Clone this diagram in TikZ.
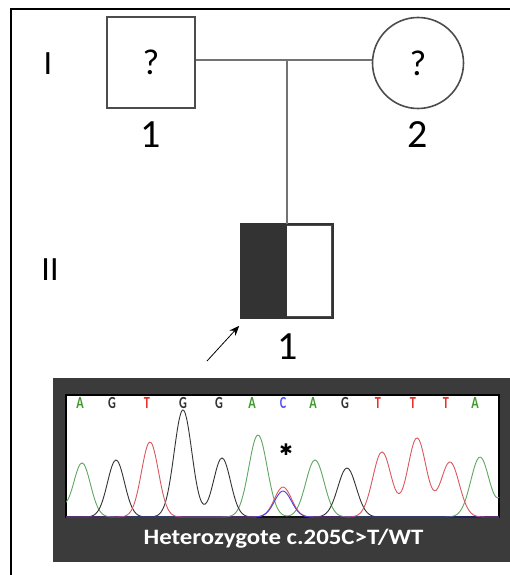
\documentclass[tikz,border=0pt]{standalone}
\usepackage{fontspec}
\setmainfont{Carlito}
\newfontfamily\djv{DejaVu Sans}
\usetikzlibrary{arrows.meta}
\definecolor{panelgray}{HTML}{3B3B3B}
\definecolor{cgreen}{HTML}{5FA85F}
\definecolor{cred}{HTML}{D9585E}
\definecolor{cblack}{HTML}{333333}
\definecolor{cblue}{HTML}{4A3FE0}
\definecolor{lgreen}{HTML}{3E9A2A}
\definecolor{lred}{HTML}{E8302F}
\definecolor{lblue}{HTML}{5A5AF5}
\newcommand{\basech}[1]{\scalebox{0.72}[1]{#1}}
\tikzset{
  pedline/.style={draw=black!55, line width=1.2pt},
  symb/.style={draw=black!70, line width=1.6pt, inner sep=0pt},
  gen/.style={font=\fontsize{34}{34}\selectfont},
  idnum/.style={font=\fontsize{40}{40}\selectfont},
  base/.style={font=\bfseries\fontsize{17}{17}\selectfont, inner sep=0pt},
  trace/.style={line width=0.9pt, smooth},
  declare function={g(\x,\c,\h,\s)=\h*exp(-((\x-\c)/\s)^2);}
}
\begin{document}
\begin{tikzpicture}[x=1pt,y=-1pt]
\useasboundingbox (0,0) rectangle (510,575);
% outer frame
\draw[line width=2pt] (11,575) -- (11,9) -- (510,9);
% generation labels
\node[gen] (genI) at (48,64) {I};
\node[gen] (genII) at (50,270) {II};
% generation I
\node[symb, rectangle, minimum width=88pt, minimum height=91pt] (p1) at (151,62.5) {};
\node[font=\fontsize{36}{36}\selectfont] (q1) at (p1.center) {?};
\node[symb, circle, minimum size=91pt] (p2) at (418,63) {};
\node[font=\fontsize{36}{36}\selectfont] (q2) at (p2.center) {?};
\node[idnum] (n1) at (151,135) {1};
\node[idnum] (n2) at (418,135) {2};
% generation II
\node[symb, rectangle, minimum width=90pt, minimum height=92pt] (c1) at (287,271) {};
\fill[black!80] (c1.north west) rectangle (c1.south);
\draw[black!80, line width=1.6pt] (c1.north west) rectangle (c1.south east);
\node[idnum] (n3) at (288,347) {1};
% mating and descent lines
\draw[pedline] (p1.east |- 0,60) -- (p2.west |- 0,60);
\coordinate (drop) at (287,60);
\draw[pedline] (drop) -- (c1.north);
% proband arrow
\coordinate (atail) at (207,361);
\draw[line width=0.8pt, -{Stealth[length=10pt,width=8pt]}] (atail) -- ([shift={(-2pt,-8pt)}]c1.south west);
% chromatogram panel
\fill[panelgray] (53,378) rectangle (510,562);
\node[draw=black, line width=1.5pt, fill=white, minimum width=433pt, minimum height=122pt, inner sep=0pt] (box) at (282.5,456) {};
\begin{scope}
\clip (66,395) rectangle (499,517);
\draw[trace, cgreen] plot[domain=60:505, samples=240] (\x,{517-g(\x,46,45,14)-g(\x,82,54,12)-g(\x,258,82,13)-g(\x,315,57,13)-g(\x,480,60,13)-g(\x,512,40,12)});
\draw[trace, cblack] plot[domain=60:505, samples=240] (\x,{517-g(\x,116,57,12)-g(\x,183,107,12.5)-g(\x,222,59,12)-g(\x,347,49,13)});
\draw[trace, cred] plot[domain=60:505, samples=240] (\x,{517-g(\x,150,75,12)-g(\x,283,30,12)-g(\x,382,65,13)-g(\x,417,79,13)-g(\x,450,55,13)});
\draw[trace, cblue] plot[domain=60:505, samples=240] (\x,{517-g(\x,283,26,12)});
\end{scope}
% base calls
\node[base, text=lgreen] (b1) at (80,403) {\basech{A}};
\node[base, text=cblack] (b2) at (112,403) {\basech{G}};
\node[base, text=lred] (b3) at (147,403) {\basech{T}};
\node[base, text=cblack] (b4) at (183,403) {\basech{G}};
\node[base, text=cblack] (b5) at (219,403) {\basech{G}};
\node[base, text=lgreen] (b6) at (252,403) {\basech{A}};
\node[base, text=lblue] (b7) at (283,403) {\basech{C}};
\node[base, text=lgreen] (b8) at (313,403) {\basech{A}};
\node[base, text=cblack] (b9) at (345,403) {\basech{G}};
\node[base, text=lred] (b10) at (378,403) {\basech{T}};
\node[base, text=lred] (b11) at (413,403) {\basech{T}};
\node[base, text=lred] (b12) at (446,403) {\basech{T}};
\node[base, text=lgreen] (b13) at (475,403) {\basech{A}};
% asterisk
\node[font=\djv\fontsize{16}{16}\selectfont, inner sep=0pt] (ast) at (286,450) {✱};
% caption
\node[text=white, font=\bfseries\fontsize{22}{22}\selectfont, inner sep=0pt] (cap) at (283.5,539) {\scalebox{1.13}[1]{Heterozygote c.205C>T/WT}};
\end{tikzpicture}
\end{document}
